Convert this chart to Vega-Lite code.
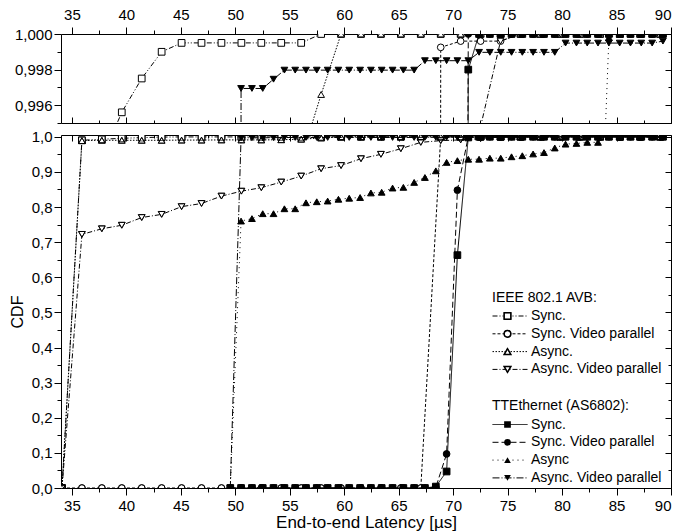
{
"$schema":"https://vega.github.io/schema/vega-lite/v6.json",
"background":"white",
"padding":{"left":8,"top":6,"right":5,"bottom":0},
"spacing":5,
"config":{
 "view":{"stroke":"black","strokeWidth":1},
 "font":"Liberation Sans",
 "axis":{"domain":false,"grid":false,"tickColor":"black","tickWidth":1,"labelColor":"black","labelFont":"Liberation Sans","labelFontSize":15,"labelPadding":2,"titleFont":"Liberation Sans","titleFontSize":16,"titleFontWeight":"normal","titleColor":"black"},
 "legend":{"labelFont":"Liberation Sans","labelFontSize":14,"titleFont":"Liberation Sans","titleFontSize":14,"titleFontWeight":"normal","labelColor":"black","titleColor":"black","padding":0,"rowPadding":3.8,"titlePadding":4.5,"clipHeight":14,"labelLimit":300}
},
"datasets":{"d":[
{"g":"A","s":"Sync.","x":34.09,"y":0},{"g":"A","s":"Sync.","x":35.92,"y":0.99},{"g":"A","s":"Sync.","x":37.75,"y":0.993},{"g":"A","s":"Sync.","x":39.58,"y":0.9956},{"g":"A","s":"Sync.","x":41.41,"y":0.9975},{"g":"A","s":"Sync.","x":43.24,"y":0.999},{"g":"A","s":"Sync.","x":45.07,"y":0.9995},{"g":"A","s":"Sync.","x":46.90,"y":0.9995},{"g":"A","s":"Sync.","x":48.73,"y":0.9995},{"g":"A","s":"Sync.","x":50.56,"y":0.9995},{"g":"A","s":"Sync.","x":52.39,"y":0.9995},{"g":"A","s":"Sync.","x":54.22,"y":0.9995},{"g":"A","s":"Sync.","x":56.05,"y":0.9995},{"g":"A","s":"Sync.","x":57.88,"y":1},{"g":"A","s":"Sync.","x":59.71,"y":1},{"g":"A","s":"Sync.","x":61.54,"y":1},{"g":"A","s":"Sync.","x":63.37,"y":1},{"g":"A","s":"Sync.","x":65.20,"y":1},{"g":"A","s":"Sync.","x":67.03,"y":1},{"g":"A","s":"Sync.","x":68.86,"y":1},{"g":"A","s":"Sync.","x":70.69,"y":1},{"g":"A","s":"Sync.","x":72.52,"y":1},{"g":"A","s":"Sync.","x":74.35,"y":1},{"g":"A","s":"Sync.","x":76.18,"y":1},{"g":"A","s":"Sync.","x":78.01,"y":1},{"g":"A","s":"Sync.","x":79.84,"y":1},{"g":"A","s":"Sync.","x":81.67,"y":1},{"g":"A","s":"Sync.","x":83.50,"y":1},{"g":"A","s":"Sync.","x":85.33,"y":1},{"g":"A","s":"Sync.","x":87.16,"y":1},{"g":"A","s":"Sync.","x":88.99,"y":1},
{"g":"A","s":"Sync. Video parallel","x":34.09,"y":0},{"g":"A","s":"Sync. Video parallel","x":35.92,"y":0},{"g":"A","s":"Sync. Video parallel","x":37.75,"y":0},{"g":"A","s":"Sync. Video parallel","x":39.58,"y":0},{"g":"A","s":"Sync. Video parallel","x":41.41,"y":0},{"g":"A","s":"Sync. Video parallel","x":43.24,"y":0},{"g":"A","s":"Sync. Video parallel","x":45.07,"y":0},{"g":"A","s":"Sync. Video parallel","x":46.90,"y":0},{"g":"A","s":"Sync. Video parallel","x":48.73,"y":0},{"g":"A","s":"Sync. Video parallel","x":50.56,"y":0},{"g":"A","s":"Sync. Video parallel","x":52.39,"y":0},{"g":"A","s":"Sync. Video parallel","x":54.22,"y":0},{"g":"A","s":"Sync. Video parallel","x":56.05,"y":0},{"g":"A","s":"Sync. Video parallel","x":57.88,"y":0},{"g":"A","s":"Sync. Video parallel","x":59.71,"y":0},{"g":"A","s":"Sync. Video parallel","x":61.54,"y":0},{"g":"A","s":"Sync. Video parallel","x":63.37,"y":0},{"g":"A","s":"Sync. Video parallel","x":65.20,"y":0},{"g":"A","s":"Sync. Video parallel","x":67.03,"y":0},{"g":"A","s":"Sync. Video parallel","x":68.86,"y":0.99925},{"g":"A","s":"Sync. Video parallel","x":70.69,"y":0.9996},{"g":"A","s":"Sync. Video parallel","x":72.52,"y":0.9996},{"g":"A","s":"Sync. Video parallel","x":74.35,"y":0.9996},{"g":"A","s":"Sync. Video parallel","x":76.18,"y":1},{"g":"A","s":"Sync. Video parallel","x":78.01,"y":1},{"g":"A","s":"Sync. Video parallel","x":79.84,"y":1},{"g":"A","s":"Sync. Video parallel","x":81.67,"y":1},{"g":"A","s":"Sync. Video parallel","x":83.50,"y":1},{"g":"A","s":"Sync. Video parallel","x":85.33,"y":1},{"g":"A","s":"Sync. Video parallel","x":87.16,"y":1},{"g":"A","s":"Sync. Video parallel","x":88.99,"y":1},
{"g":"A","s":"Async.","x":34.09,"y":0},{"g":"A","s":"Async.","x":35.92,"y":0.989},{"g":"A","s":"Async.","x":37.75,"y":0.99},{"g":"A","s":"Async.","x":39.58,"y":0.99},{"g":"A","s":"Async.","x":41.41,"y":0.99},{"g":"A","s":"Async.","x":43.24,"y":0.99},{"g":"A","s":"Async.","x":45.07,"y":0.9905},{"g":"A","s":"Async.","x":46.90,"y":0.9905},{"g":"A","s":"Async.","x":48.73,"y":0.991},{"g":"A","s":"Async.","x":50.56,"y":0.991},{"g":"A","s":"Async.","x":52.39,"y":0.991},{"g":"A","s":"Async.","x":54.22,"y":0.9915},{"g":"A","s":"Async.","x":56.05,"y":0.993},{"g":"A","s":"Async.","x":57.88,"y":0.9966},{"g":"A","s":"Async.","x":59.71,"y":1},{"g":"A","s":"Async.","x":61.54,"y":1},{"g":"A","s":"Async.","x":63.37,"y":1},{"g":"A","s":"Async.","x":65.20,"y":1},{"g":"A","s":"Async.","x":67.03,"y":1},{"g":"A","s":"Async.","x":68.86,"y":1},{"g":"A","s":"Async.","x":70.69,"y":1},{"g":"A","s":"Async.","x":72.52,"y":1},{"g":"A","s":"Async.","x":74.35,"y":1},{"g":"A","s":"Async.","x":76.18,"y":1},{"g":"A","s":"Async.","x":78.01,"y":1},{"g":"A","s":"Async.","x":79.84,"y":1},{"g":"A","s":"Async.","x":81.67,"y":1},{"g":"A","s":"Async.","x":83.50,"y":1},{"g":"A","s":"Async.","x":85.33,"y":1},{"g":"A","s":"Async.","x":87.16,"y":1},{"g":"A","s":"Async.","x":88.99,"y":1},
{"g":"A","s":"Async. Video parallel","x":34.09,"y":0},{"g":"A","s":"Async. Video parallel","x":35.92,"y":0.722},{"g":"A","s":"Async. Video parallel","x":37.75,"y":0.738},{"g":"A","s":"Async. Video parallel","x":39.58,"y":0.748},{"g":"A","s":"Async. Video parallel","x":41.41,"y":0.770},{"g":"A","s":"Async. Video parallel","x":43.24,"y":0.779},{"g":"A","s":"Async. Video parallel","x":45.07,"y":0.801},{"g":"A","s":"Async. Video parallel","x":46.90,"y":0.810},{"g":"A","s":"Async. Video parallel","x":48.73,"y":0.831},{"g":"A","s":"Async. Video parallel","x":50.56,"y":0.845},{"g":"A","s":"Async. Video parallel","x":52.39,"y":0.855},{"g":"A","s":"Async. Video parallel","x":54.22,"y":0.871},{"g":"A","s":"Async. Video parallel","x":56.05,"y":0.888},{"g":"A","s":"Async. Video parallel","x":57.88,"y":0.909},{"g":"A","s":"Async. Video parallel","x":59.71,"y":0.918},{"g":"A","s":"Async. Video parallel","x":61.54,"y":0.9375},{"g":"A","s":"Async. Video parallel","x":63.37,"y":0.950},{"g":"A","s":"Async. Video parallel","x":65.20,"y":0.966},{"g":"A","s":"Async. Video parallel","x":67.03,"y":0.984},{"g":"A","s":"Async. Video parallel","x":68.86,"y":0.989},{"g":"A","s":"Async. Video parallel","x":70.69,"y":0.991},{"g":"A","s":"Async. Video parallel","x":72.52,"y":0.9948},{"g":"A","s":"Async. Video parallel","x":74.35,"y":0.9996},{"g":"A","s":"Async. Video parallel","x":76.18,"y":1},{"g":"A","s":"Async. Video parallel","x":78.01,"y":1},{"g":"A","s":"Async. Video parallel","x":79.84,"y":1},{"g":"A","s":"Async. Video parallel","x":81.67,"y":1},{"g":"A","s":"Async. Video parallel","x":83.50,"y":1},{"g":"A","s":"Async. Video parallel","x":85.33,"y":1},{"g":"A","s":"Async. Video parallel","x":87.16,"y":1},{"g":"A","s":"Async. Video parallel","x":88.99,"y":1},
{"g":"T","s":"Sync.","x":49.54,"y":0},{"g":"T","s":"Sync.","x":50.53,"y":0},{"g":"T","s":"Sync.","x":51.53,"y":0},{"g":"T","s":"Sync.","x":52.52,"y":0},{"g":"T","s":"Sync.","x":53.51,"y":0},{"g":"T","s":"Sync.","x":54.51,"y":0},{"g":"T","s":"Sync.","x":55.50,"y":0},{"g":"T","s":"Sync.","x":56.49,"y":0},{"g":"T","s":"Sync.","x":57.48,"y":0},{"g":"T","s":"Sync.","x":58.48,"y":0},{"g":"T","s":"Sync.","x":59.47,"y":0},{"g":"T","s":"Sync.","x":60.46,"y":0},{"g":"T","s":"Sync.","x":61.46,"y":0},{"g":"T","s":"Sync.","x":62.45,"y":0},{"g":"T","s":"Sync.","x":63.44,"y":0},{"g":"T","s":"Sync.","x":64.44,"y":0},{"g":"T","s":"Sync.","x":65.43,"y":0},{"g":"T","s":"Sync.","x":66.42,"y":0},{"g":"T","s":"Sync.","x":67.41,"y":0},{"g":"T","s":"Sync.","x":68.41,"y":0.004},{"g":"T","s":"Sync.","x":69.40,"y":0.047},{"g":"T","s":"Sync.","x":70.39,"y":0.663},{"g":"T","s":"Sync.","x":71.39,"y":0.998},{"g":"T","s":"Sync.","x":72.38,"y":1},{"g":"T","s":"Sync.","x":73.37,"y":1},{"g":"T","s":"Sync.","x":74.37,"y":1},{"g":"T","s":"Sync.","x":75.36,"y":1},{"g":"T","s":"Sync.","x":76.35,"y":1},{"g":"T","s":"Sync.","x":77.34,"y":1},{"g":"T","s":"Sync.","x":78.34,"y":1},{"g":"T","s":"Sync.","x":79.33,"y":1},{"g":"T","s":"Sync.","x":80.32,"y":1},{"g":"T","s":"Sync.","x":81.32,"y":1},{"g":"T","s":"Sync.","x":82.31,"y":1},{"g":"T","s":"Sync.","x":83.30,"y":1},{"g":"T","s":"Sync.","x":84.30,"y":1},{"g":"T","s":"Sync.","x":85.29,"y":1},{"g":"T","s":"Sync.","x":86.28,"y":1},{"g":"T","s":"Sync.","x":87.27,"y":1},{"g":"T","s":"Sync.","x":88.27,"y":1},{"g":"T","s":"Sync.","x":89.26,"y":1},
{"g":"T","s":"Sync. Video parallel","x":49.54,"y":0},{"g":"T","s":"Sync. Video parallel","x":50.53,"y":0},{"g":"T","s":"Sync. Video parallel","x":51.53,"y":0},{"g":"T","s":"Sync. Video parallel","x":52.52,"y":0},{"g":"T","s":"Sync. Video parallel","x":53.51,"y":0},{"g":"T","s":"Sync. Video parallel","x":54.51,"y":0},{"g":"T","s":"Sync. Video parallel","x":55.50,"y":0},{"g":"T","s":"Sync. Video parallel","x":56.49,"y":0},{"g":"T","s":"Sync. Video parallel","x":57.48,"y":0},{"g":"T","s":"Sync. Video parallel","x":58.48,"y":0},{"g":"T","s":"Sync. Video parallel","x":59.47,"y":0},{"g":"T","s":"Sync. Video parallel","x":60.46,"y":0},{"g":"T","s":"Sync. Video parallel","x":61.46,"y":0},{"g":"T","s":"Sync. Video parallel","x":62.45,"y":0},{"g":"T","s":"Sync. Video parallel","x":63.44,"y":0},{"g":"T","s":"Sync. Video parallel","x":64.44,"y":0},{"g":"T","s":"Sync. Video parallel","x":65.43,"y":0},{"g":"T","s":"Sync. Video parallel","x":66.42,"y":0},{"g":"T","s":"Sync. Video parallel","x":67.41,"y":0},{"g":"T","s":"Sync. Video parallel","x":68.41,"y":0.002},{"g":"T","s":"Sync. Video parallel","x":69.40,"y":0.097},{"g":"T","s":"Sync. Video parallel","x":70.39,"y":0.848},{"g":"T","s":"Sync. Video parallel","x":71.39,"y":1},{"g":"T","s":"Sync. Video parallel","x":72.38,"y":1},{"g":"T","s":"Sync. Video parallel","x":73.37,"y":1},{"g":"T","s":"Sync. Video parallel","x":74.37,"y":1},{"g":"T","s":"Sync. Video parallel","x":75.36,"y":1},{"g":"T","s":"Sync. Video parallel","x":76.35,"y":1},{"g":"T","s":"Sync. Video parallel","x":77.34,"y":1},{"g":"T","s":"Sync. Video parallel","x":78.34,"y":1},{"g":"T","s":"Sync. Video parallel","x":79.33,"y":1},{"g":"T","s":"Sync. Video parallel","x":80.32,"y":1},{"g":"T","s":"Sync. Video parallel","x":81.32,"y":1},{"g":"T","s":"Sync. Video parallel","x":82.31,"y":1},{"g":"T","s":"Sync. Video parallel","x":83.30,"y":1},{"g":"T","s":"Sync. Video parallel","x":84.30,"y":1},{"g":"T","s":"Sync. Video parallel","x":85.29,"y":1},{"g":"T","s":"Sync. Video parallel","x":86.28,"y":1},{"g":"T","s":"Sync. Video parallel","x":87.27,"y":1},{"g":"T","s":"Sync. Video parallel","x":88.27,"y":1},{"g":"T","s":"Sync. Video parallel","x":89.26,"y":1},
{"g":"T","s":"Async","x":49.54,"y":0},{"g":"T","s":"Async","x":50.53,"y":0.760},{"g":"T","s":"Async","x":51.53,"y":0.767},{"g":"T","s":"Async","x":52.52,"y":0.781},{"g":"T","s":"Async","x":53.51,"y":0.781},{"g":"T","s":"Async","x":54.51,"y":0.795},{"g":"T","s":"Async","x":55.50,"y":0.795},{"g":"T","s":"Async","x":56.49,"y":0.812},{"g":"T","s":"Async","x":57.48,"y":0.815},{"g":"T","s":"Async","x":58.48,"y":0.817},{"g":"T","s":"Async","x":59.47,"y":0.822},{"g":"T","s":"Async","x":60.46,"y":0.825},{"g":"T","s":"Async","x":61.46,"y":0.827},{"g":"T","s":"Async","x":62.45,"y":0.840},{"g":"T","s":"Async","x":63.44,"y":0.842},{"g":"T","s":"Async","x":64.44,"y":0.854},{"g":"T","s":"Async","x":65.43,"y":0.856},{"g":"T","s":"Async","x":66.42,"y":0.870},{"g":"T","s":"Async","x":67.41,"y":0.884},{"g":"T","s":"Async","x":68.41,"y":0.903},{"g":"T","s":"Async","x":69.40,"y":0.927},{"g":"T","s":"Async","x":70.39,"y":0.932},{"g":"T","s":"Async","x":71.39,"y":0.936},{"g":"T","s":"Async","x":72.38,"y":0.936},{"g":"T","s":"Async","x":73.37,"y":0.939},{"g":"T","s":"Async","x":74.37,"y":0.939},{"g":"T","s":"Async","x":75.36,"y":0.943},{"g":"T","s":"Async","x":76.35,"y":0.946},{"g":"T","s":"Async","x":77.34,"y":0.951},{"g":"T","s":"Async","x":78.34,"y":0.955},{"g":"T","s":"Async","x":79.33,"y":0.968},{"g":"T","s":"Async","x":80.32,"y":0.979},{"g":"T","s":"Async","x":81.32,"y":0.981},{"g":"T","s":"Async","x":82.31,"y":0.984},{"g":"T","s":"Async","x":83.30,"y":0.984},{"g":"T","s":"Async","x":84.30,"y":0.9998},{"g":"T","s":"Async","x":85.29,"y":1},{"g":"T","s":"Async","x":86.28,"y":1},{"g":"T","s":"Async","x":87.27,"y":1},{"g":"T","s":"Async","x":88.27,"y":1},{"g":"T","s":"Async","x":89.26,"y":1},
{"g":"T","s":"Async. Video parallel","x":49.54,"y":0},{"g":"T","s":"Async. Video parallel","x":50.53,"y":0.99694},{"g":"T","s":"Async. Video parallel","x":51.53,"y":0.99694},{"g":"T","s":"Async. Video parallel","x":52.52,"y":0.99694},{"g":"T","s":"Async. Video parallel","x":53.51,"y":0.99746},{"g":"T","s":"Async. Video parallel","x":54.51,"y":0.99797},{"g":"T","s":"Async. Video parallel","x":55.50,"y":0.99797},{"g":"T","s":"Async. Video parallel","x":56.49,"y":0.99797},{"g":"T","s":"Async. Video parallel","x":57.48,"y":0.99797},{"g":"T","s":"Async. Video parallel","x":58.48,"y":0.99797},{"g":"T","s":"Async. Video parallel","x":59.47,"y":0.99797},{"g":"T","s":"Async. Video parallel","x":60.46,"y":0.99797},{"g":"T","s":"Async. Video parallel","x":61.46,"y":0.99797},{"g":"T","s":"Async. Video parallel","x":62.45,"y":0.99797},{"g":"T","s":"Async. Video parallel","x":63.44,"y":0.99797},{"g":"T","s":"Async. Video parallel","x":64.44,"y":0.99797},{"g":"T","s":"Async. Video parallel","x":65.43,"y":0.99797},{"g":"T","s":"Async. Video parallel","x":66.42,"y":0.99797},{"g":"T","s":"Async. Video parallel","x":67.41,"y":0.9985},{"g":"T","s":"Async. Video parallel","x":68.41,"y":0.9985},{"g":"T","s":"Async. Video parallel","x":69.40,"y":0.9985},{"g":"T","s":"Async. Video parallel","x":70.39,"y":0.9985},{"g":"T","s":"Async. Video parallel","x":71.39,"y":0.9985},{"g":"T","s":"Async. Video parallel","x":72.38,"y":0.99897},{"g":"T","s":"Async. Video parallel","x":73.37,"y":0.99897},{"g":"T","s":"Async. Video parallel","x":74.37,"y":0.99897},{"g":"T","s":"Async. Video parallel","x":75.36,"y":0.99897},{"g":"T","s":"Async. Video parallel","x":76.35,"y":0.99897},{"g":"T","s":"Async. Video parallel","x":77.34,"y":0.99897},{"g":"T","s":"Async. Video parallel","x":78.34,"y":0.99897},{"g":"T","s":"Async. Video parallel","x":79.33,"y":0.99897},{"g":"T","s":"Async. Video parallel","x":80.32,"y":0.99949},{"g":"T","s":"Async. Video parallel","x":81.32,"y":0.99949},{"g":"T","s":"Async. Video parallel","x":82.31,"y":0.99949},{"g":"T","s":"Async. Video parallel","x":83.30,"y":0.99949},{"g":"T","s":"Async. Video parallel","x":84.30,"y":0.99949},{"g":"T","s":"Async. Video parallel","x":85.29,"y":0.99949},{"g":"T","s":"Async. Video parallel","x":86.28,"y":0.99949},{"g":"T","s":"Async. Video parallel","x":87.27,"y":0.99949},{"g":"T","s":"Async. Video parallel","x":88.27,"y":0.99949},{"g":"T","s":"Async. Video parallel","x":89.26,"y":0.9996}
]},
"vconcat":[
{
 "width":610,"height":89,
 "resolve":{"scale":{"strokeDash":"independent","shape":"independent"},"axis":{"x":"independent","y":"independent"}},
 "layer":[
  {"data":{"name":"d"},"transform":[{"filter":"datum.g=='A'"}],
   "mark":{"type":"line","clip":true,"color":"black","strokeWidth":1},
   "encoding":{
    "x":{"field":"x","type":"quantitative","scale":{"domain":[34,90],"nice":false},"axis":{"orient":"top","values":[35,40,45,50,55,60,65,70,75,80,85,90],"tickSize":7,"labelPadding":5,"title":null}},
    "y":{"field":"y","type":"quantitative","scale":{"domain":[0.995,1],"nice":false,"zero":false},"axis":{"orient":"left","values":[0.996,0.998,1],"tickSize":7,"labelExpr":"replace(format(datum.value,'.3f'),'.',',')","title":null}},
    "strokeDash":{"field":"s","type":"nominal","scale":{"domain":["Sync.","Sync. Video parallel","Async.","Async. Video parallel"],"range":[[5,2,1,2,1,2],[3,2],[1.5,1.5],[5,2,1,2]]},"legend":null}
   }},
  {"data":{"name":"d"},"transform":[{"filter":"datum.g=='A'"}],
   "mark":{"type":"point","clip":true,"filled":false,"fill":"white","stroke":"black","strokeWidth":1,"size":45,"opacity":1},
   "encoding":{
    "x":{"field":"x","type":"quantitative","scale":{"domain":[34,90],"nice":false},"axis":{"orient":"top","values":[37.5,42.5,47.5,52.5,57.5,62.5,67.5,72.5,77.5,82.5,87.5],"tickSize":4,"labels":false,"title":null}},
    "y":{"field":"y","type":"quantitative","scale":{"domain":[0.995,1],"nice":false,"zero":false},"axis":{"orient":"left","values":[0.995,0.997,0.999],"tickSize":4,"labels":false,"title":null}},
    "shape":{"field":"s","type":"nominal","scale":{"domain":["Sync.","Sync. Video parallel","Async.","Async. Video parallel"],"range":["square","circle","triangle-up","triangle-down"]},"legend":null}
   }},
  {"data":{"name":"d"},"transform":[{"filter":"datum.g=='T'"}],
   "mark":{"type":"line","clip":true,"color":"black","strokeWidth":1},
   "encoding":{
    "x":{"field":"x","type":"quantitative","scale":{"domain":[34,90],"nice":false},"axis":{"orient":"bottom","values":[35,40,45,50,55,60,65,70,75,80,85,90],"tickSize":-6,"labels":false,"title":null}},
    "y":{"field":"y","type":"quantitative","scale":{"domain":[0.995,1],"nice":false,"zero":false},"axis":{"orient":"right","values":[0.996,0.998,1],"tickSize":-6,"labels":false,"title":null}},
    "strokeDash":{"field":"s","type":"nominal","scale":{"domain":["Sync.","Sync. Video parallel","Async","Async. Video parallel"],"range":[[1,0],[6,3],[1,4],[7,2,1,2]]},"legend":null}
   }},
  {"data":{"name":"d"},"transform":[{"filter":"datum.g=='T'"}],
   "mark":{"type":"point","clip":true,"filled":true,"fill":"black","stroke":"black","strokeWidth":1,"size":45,"opacity":1},
   "encoding":{
    "x":{"field":"x","type":"quantitative","scale":{"domain":[34,90],"nice":false},"axis":{"orient":"bottom","values":[37.5,42.5,47.5,52.5,57.5,62.5,67.5,72.5,77.5,82.5,87.5],"tickSize":-3,"labels":false,"title":null}},
    "y":{"field":"y","type":"quantitative","scale":{"domain":[0.995,1],"nice":false,"zero":false},"axis":{"orient":"right","values":[0.995,0.997,0.999],"tickSize":-3,"labels":false,"title":null}},
    "shape":{"field":"s","type":"nominal","scale":{"domain":["Sync.","Sync. Video parallel","Async","Async. Video parallel"],"range":["square","circle","triangle-up","triangle-down"]},"legend":null}
   }}
 ]
},
{
 "width":610,"height":353,
 "resolve":{"scale":{"strokeDash":"independent","shape":"independent"},"axis":{"x":"independent","y":"independent"}},
 "layer":[
  {"data":{"name":"d"},"transform":[{"filter":"datum.g=='A'"}],
   "mark":{"type":"line","clip":true,"color":"black","strokeWidth":1},
   "encoding":{
    "x":{"field":"x","type":"quantitative","scale":{"domain":[34,90],"nice":false},"axis":{"orient":"bottom","values":[35,40,45,50,55,60,65,70,75,80,85,90],"tickSize":7,"labelPadding":3,"title":"End-to-end Latency [µs]","titleFontSize":17,"titlePadding":1}},
    "y":{"field":"y","type":"quantitative","scale":{"domain":[0,1.005],"nice":false},"axis":{"orient":"left","values":[0,0.1,0.2,0.3,0.4,0.5,0.6,0.7,0.8,0.9,1],"tickSize":7,"labelExpr":"replace(format(datum.value,'.1f'),'.',',')","title":"CDF","titlePadding":6}},
    "strokeDash":{"field":"s","type":"nominal","scale":{"domain":["Sync.","Sync. Video parallel","Async.","Async. Video parallel"],"range":[[5,2,1,2,1,2],[3,2],[1.5,1.5],[5,2,1,2]]},
      "legend":{"orient":"none","legendX":431,"legendY":155.5,"title":"IEEE 802.1 AVB:","symbolSize":1225,"symbolStrokeWidth":1,"symbolStrokeColor":"black","labelOffset":3}}
   }},
  {"data":{"name":"d"},"transform":[{"filter":"datum.g=='A'"}],
   "mark":{"type":"point","clip":true,"filled":false,"fill":"white","stroke":"black","strokeWidth":1,"size":45,"opacity":1},
   "encoding":{
    "x":{"field":"x","type":"quantitative","scale":{"domain":[34,90],"nice":false},"axis":{"orient":"bottom","values":[37.5,42.5,47.5,52.5,57.5,62.5,67.5,72.5,77.5,82.5,87.5],"tickSize":4,"labels":false,"title":null}},
    "y":{"field":"y","type":"quantitative","scale":{"domain":[0,1.005],"nice":false},"axis":{"orient":"left","values":[0.05,0.15,0.25,0.35,0.45,0.55,0.65,0.75,0.85,0.95],"tickSize":4,"labels":false,"title":null}},
    "shape":{"field":"s","type":"nominal","scale":{"domain":["Sync.","Sync. Video parallel","Async.","Async. Video parallel"],"range":["square","circle","triangle-up","triangle-down"]},
      "legend":{"orient":"none","legendX":439.5,"legendY":155.5,"title":" ","titleColor":"transparent","labelExpr":"' '","labelColor":"transparent","symbolSize":45,"symbolFillColor":"white"}}
   }},
  {"data":{"name":"d"},"transform":[{"filter":"datum.g=='A'"}],
   "mark":{"type":"point","clip":true,"filled":false,"color":"black","strokeWidth":1,"size":45},
   "encoding":{
    "x":{"field":"x","type":"quantitative","scale":{"domain":[34,90],"nice":false},"axis":null},
    "y":{"field":"y","type":"quantitative","scale":{"domain":[0,1.005],"nice":false},"axis":null},
    "shape":{"field":"s","type":"nominal","scale":{"domain":["Sync.","Sync. Video parallel","Async.","Async. Video parallel"],"range":["square","circle","triangle-up","triangle-down"]},
      "legend":{"orient":"none","legendX":439.5,"legendY":155.5,"title":" ","titleColor":"transparent","labelExpr":"' '","labelColor":"transparent","symbolSize":45,"symbolStrokeWidth":1}}
   }},
  {"data":{"name":"d"},"transform":[{"filter":"datum.g=='T'"}],
   "mark":{"type":"line","clip":true,"color":"black","strokeWidth":1},
   "encoding":{
    "x":{"field":"x","type":"quantitative","scale":{"domain":[34,90],"nice":false},"axis":{"orient":"top","values":[35,40,45,50,55,60,65,70,75,80,85,90],"tickSize":-6,"labels":false,"title":null}},
    "y":{"field":"y","type":"quantitative","scale":{"domain":[0,1.005],"nice":false},"axis":{"orient":"right","values":[0,0.1,0.2,0.3,0.4,0.5,0.6,0.7,0.8,0.9,1],"tickSize":-6,"labels":false,"title":null}},
    "strokeDash":{"field":"s","type":"nominal","scale":{"domain":["Sync.","Sync. Video parallel","Async","Async. Video parallel"],"range":[[1,0],[6,3],[1,4],[7,2,1,2]]},
      "legend":{"orient":"none","legendX":431,"legendY":264,"title":"TTEthernet (AS6802):","symbolSize":1225,"symbolStrokeWidth":1,"symbolStrokeColor":"black","labelOffset":3}}
   }},
  {"data":{"name":"d"},"transform":[{"filter":"datum.g=='T'"}],
   "mark":{"type":"point","clip":true,"filled":true,"fill":"black","stroke":"black","strokeWidth":1,"size":45,"opacity":1},
   "encoding":{
    "x":{"field":"x","type":"quantitative","scale":{"domain":[34,90],"nice":false},"axis":{"orient":"top","values":[37.5,42.5,47.5,52.5,57.5,62.5,67.5,72.5,77.5,82.5,87.5],"tickSize":-3,"labels":false,"title":null}},
    "y":{"field":"y","type":"quantitative","scale":{"domain":[0,1.005],"nice":false},"axis":{"orient":"right","values":[0.05,0.15,0.25,0.35,0.45,0.55,0.65,0.75,0.85,0.95],"tickSize":-3,"labels":false,"title":null}},
    "shape":{"field":"s","type":"nominal","scale":{"domain":["Sync.","Sync. Video parallel","Async","Async. Video parallel"],"range":["square","circle","triangle-up","triangle-down"]},
      "legend":{"orient":"none","legendX":439.5,"legendY":264,"title":" ","titleColor":"transparent","labelExpr":"' '","labelColor":"transparent","symbolSize":45,"symbolFillColor":"black","symbolStrokeColor":"black","symbolStrokeWidth":1}}
   }}
 ]
}
]
}
